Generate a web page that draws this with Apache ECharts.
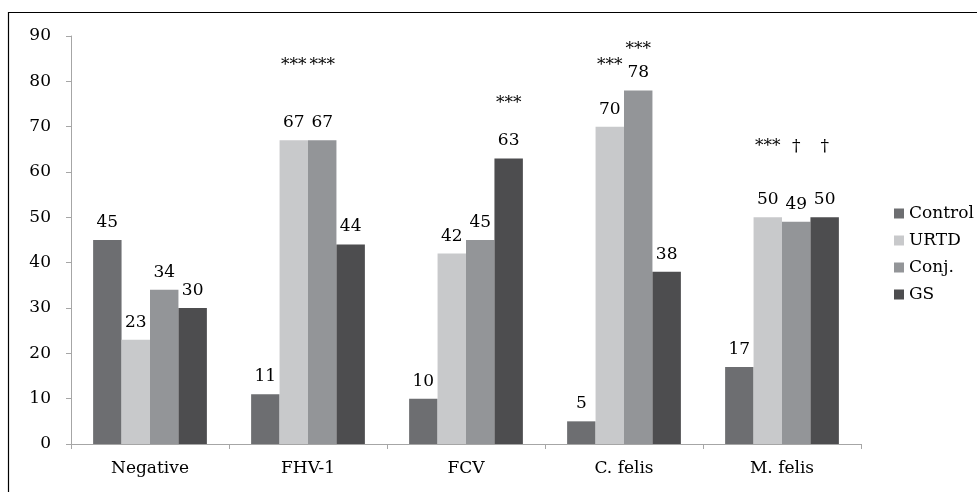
<!DOCTYPE html>
<html>
<head>
<meta charset="utf-8">
<script src="https://cdn.jsdelivr.net/npm/echarts@6/dist/echarts.min.js"></script>
<style>html,body{margin:0;padding:0;background:#fff;}#c{width:977px;height:492px;}</style>
</head>
<body>
<div id="c"></div>
<script>
var categories = ['Negative', 'FHV-1', 'FCV', 'C. felis', 'M. felis'];
var seriesNames = ['Control', 'URTD', 'Conj.', 'GS'];
var control = [45, 11, 10, 5, 17];
var urtd = [23, 67, 42, 70, 50];
var conj = [34, 67, 45, 78, 49];
var gs = [30, 44, 63, 38, 50];
// significance markers: text and height (in axis units) per series slot
var sigControlText = ['', '', '', '', ''];
var sigControlY = [null, null, null, null, null];
var sigUrtdText = ['', '***', '', '***', '***'];
var sigUrtdY = [null, 81.6, null, 81.6, 63.8];
var sigConjText = ['', '***', '', '***', '\u2020'];
var sigConjY = [null, 81.6, null, 85.2, 63.8];
var sigGsText = ['', '', '***', '', '\u2020'];
var sigGsY = [null, null, 73.2, null, 63.8];
var yTicks = [0, 10, 20, 30, 40, 50, 60, 70, 80, 90];

var colors = ['#6d6e71', '#c8c9cb', '#939598', '#4d4d4f'];
var FONT = 'DejaVu Serif';
var values = [control, urtd, conj, gs];
var sigTexts = [sigControlText, sigUrtdText, sigConjText, sigGsText];
var sigYs = [sigControlY, sigUrtdY, sigConjY, sigGsY];

var series = [];
values.forEach(function (v, i) {
  series.push({
    name: seriesNames[i], type: 'bar', data: v,
    xAxisIndex: 0, barGap: '0%', barCategoryGap: '28%',
    itemStyle: { color: colors[i] },
    label: { show: true, position: 'top', distance: 9, color: '#000', fontFamily: FONT, fontSize: 17 }
  });
});
sigYs.forEach(function (v, i) {
  var t = sigTexts[i];
  series.push({
    name: 'sig' + i, type: 'bar', data: v,
    xAxisIndex: 1, barGap: '0%', barCategoryGap: '28%',
    itemStyle: { color: 'rgba(0,0,0,0)' }, silent: true,
    label: { show: true, position: 'top', distance: 0, color: '#000', fontFamily: FONT, fontSize: 17,
      formatter: function (p) { return t[p.dataIndex]; } }
  });
});

var chart = echarts.init(document.getElementById('c'));
chart.setOption({
  animation: false,
  backgroundColor: '#fff',
  color: colors,
  grid: { left: 71, right: 116, top: 36, bottom: 48, containLabel: false },
  legend: {
    data: seriesNames, orient: 'vertical', left: 889, top: 200,
    icon: 'rect', itemWidth: 10, itemHeight: 10, itemGap: 10,
    textStyle: { fontFamily: FONT, fontSize: 17, color: '#000' }
  },
  xAxis: [{
    type: 'category', data: categories,
    axisLine: { lineStyle: { color: '#a6a6a6' } },
    axisTick: { show: true, length: 5, lineStyle: { color: '#a6a6a6' } },
    axisLabel: { fontFamily: FONT, fontSize: 17, color: '#000', margin: 16 }
  }, {
    type: 'category', data: categories, show: false, position: 'bottom'
  }],
  yAxis: {
    type: 'value', min: 0, max: 90, interval: 10,
    axisLine: { show: true, lineStyle: { color: '#a6a6a6' } },
    axisTick: { show: true, length: 5, lineStyle: { color: '#a6a6a6' } },
    splitLine: { show: false },
    axisLabel: { fontFamily: FONT, fontSize: 17, color: '#000', margin: 20,
      formatter: function (v) { return yTicks.indexOf(v) >= 0 ? String(v) : ''; } }
  },
  graphic: [{
    type: 'rect', silent: true,
    shape: { x: 8.5, y: 12.5, width: 1200, height: 800 },
    style: { fill: 'none', stroke: '#000', lineWidth: 1.2 }
  }],
  series: series
});
</script>
</body>
</html>
